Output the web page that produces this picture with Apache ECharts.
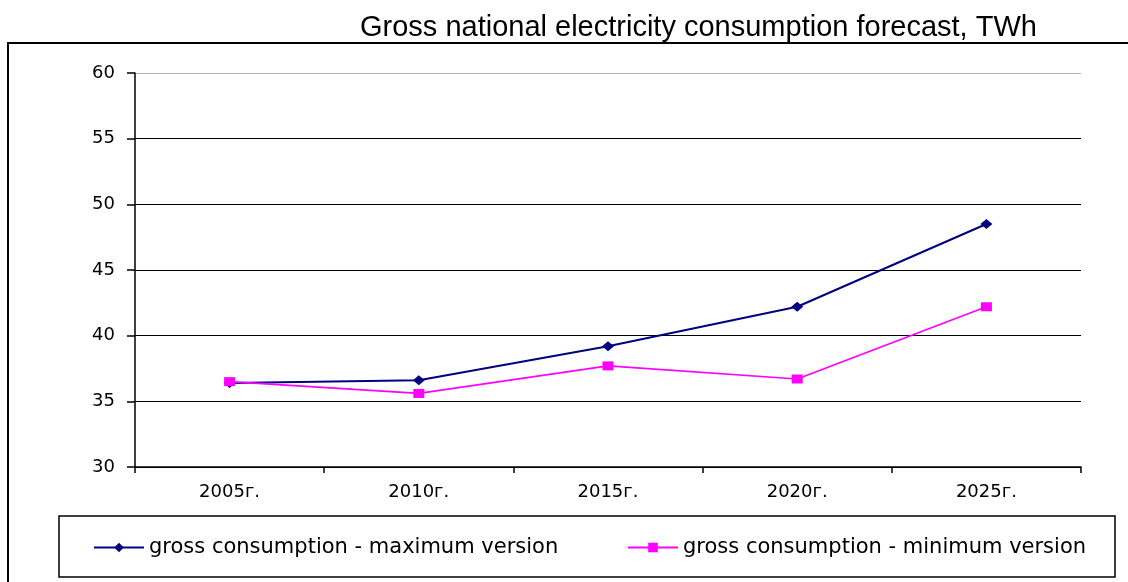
<!DOCTYPE html>
<html>
<head>
<meta charset="utf-8">
<script src="https://cdn.jsdelivr.net/npm/echarts@6/dist/echarts.min.js"></script>
<style>html,body{margin:0;padding:0;background:#fff;}#c{width:1128px;height:582px;}</style>
</head>
<body>
<div id="c"></div>
<script>
var categories = ['2005г.', '2010г.', '2015г.', '2020г.', '2025г.'];
var maxVersion = [36.4, 36.6, 39.2, 42.2, 48.5];
var minVersion = [36.5, 35.6, 37.7, 36.7, 42.2];
var seriesNames = ['gross consumption - maximum version', 'gross consumption - minimum version'];
var titleText = 'Gross national electricity consumption forecast, TWh';

var FONT = '"Liberation Sans", Arial, sans-serif';
var WIDE = '"DejaVu Sans", "Liberation Sans", sans-serif';
var chart = echarts.init(document.getElementById('c'), null, {renderer: 'canvas'});
chart.setOption({
  animation: false,
  backgroundColor: '#fff',
  title: {
    text: titleText,
    left: 360, top: 13, padding: 0,
    textStyle: {fontFamily: FONT, fontSize: 29, fontWeight: 'normal', color: '#000'}
  },
  graphic: [
    {type: 'rect', shape: {x: 8, y: 43, width: 1130, height: 550}, style: {fill: 'none', stroke: '#000', lineWidth: 2}, silent: true},
    {type: 'rect', shape: {x: 59, y: 516, width: 1056, height: 61}, style: {fill: 'none', stroke: '#000', lineWidth: 1.5}, silent: true}
  ],
  legend: [
    {data: [seriesNames[0]], left: 93, top: 537, itemWidth: 50, itemHeight: 12, padding: 0,
     textStyle: {fontFamily: WIDE, fontSize: 21, color: '#000'}},
    {data: [seriesNames[1]], left: 627, top: 537, itemWidth: 50, itemHeight: 12, padding: 0,
     textStyle: {fontFamily: WIDE, fontSize: 21, color: '#000'}}
  ],
  grid: {left: 135, right: 47, top: 73, bottom: 115, containLabel: false},
  xAxis: {
    type: 'category',
    data: categories,
    boundaryGap: true,
    axisLine: {lineStyle: {color: '#000', width: 1.5}},
    axisTick: {show: true, inside: false, length: 6, lineStyle: {color: '#000', width: 1.5}},
    axisLabel: {fontFamily: WIDE, fontSize: 18, color: '#000', margin: 16},
    splitLine: {show: false}
  },
  yAxis: {
    type: 'value',
    min: 30, max: 60, interval: 5,
    axisLine: {show: true, lineStyle: {color: '#000', width: 1.5}},
    axisTick: {show: true, length: 8, lineStyle: {color: '#000', width: 1.5}},
    axisLabel: {fontFamily: WIDE, fontSize: 18, color: '#000', margin: 20},
    splitLine: {show: true, lineStyle: {color: ['#000', '#000', '#000', '#000', '#000', '#000', '#b4b4b4'], width: 1}}
  },
  series: [
    {name: seriesNames[0], type: 'line', data: maxVersion, symbol: 'diamond', symbolSize: [12, 10],
     itemStyle: {color: '#000080'}, lineStyle: {color: '#000080', width: 2}},
    {name: seriesNames[1], type: 'line', data: minVersion, symbol: 'rect', symbolSize: [11, 9],
     itemStyle: {color: '#ff00ff'}, lineStyle: {color: '#ff00ff', width: 1.7}}
  ]
});
</script>
</body>
</html>
